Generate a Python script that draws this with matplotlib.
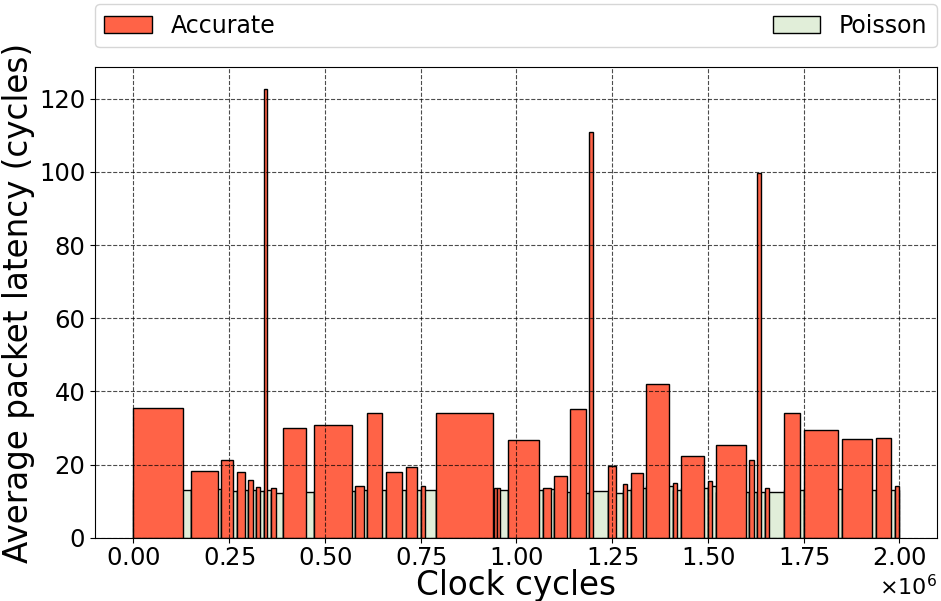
import matplotlib
matplotlib.use("Agg")
import matplotlib.pyplot as plt

# Simulation windows: start cycle, window length (cycles) and mean packet latency
acc_start = [0, 150600, 229800, 270500, 299200, 320000, 340100, 358300, 390400,
             471200, 579800, 610300, 659800, 710900, 750000, 789100, 941300,
             949900, 979300, 1068900, 1099200, 1140100, 1190400, 1239900,
             1279000, 1299800, 1339400, 1409000, 1429900, 1500200, 1520000,
             1608600, 1628200, 1649000, 1699800, 1750600, 1850700, 1940100,
             1989600]
acc_width = [129800, 70400, 30300, 20100, 12200, 9700, 9600, 13000, 60900,
             100000, 21600, 39900, 40700, 29700, 11500, 151100, 8600,
             8600, 80800, 20900, 32300, 40900, 8800, 20100,
             10400, 29700, 60000, 10700, 60200, 9900, 80000,
             11000, 10900, 10500, 39600, 89700, 78200, 39100,
             8600]
acc_latency = [35.6, 18.3, 21.3, 17.9, 15.7, 14.0, 122.5, 13.7, 30.0,
               30.9, 14.2, 34.1, 18.0, 19.3, 14.2, 34.0, 13.7,
               13.5, 26.8, 13.7, 17.0, 35.2, 110.8, 19.7,
               14.8, 17.6, 42.0, 15.0, 22.4, 15.6, 25.4,
               21.3, 99.6, 13.7, 34.1, 29.6, 27.1, 27.4,
               14.1]

poi_start = [0, 150600, 229800, 270500, 299200, 320000, 340100, 358300, 390400,
             471200, 579800, 610300, 659800, 710900, 750000, 789100, 941300,
             949900, 979300, 1068900, 1099200, 1140100, 1190400, 1239900,
             1279000, 1299800, 1339400, 1409000, 1429900, 1500200, 1520000,
             1608600, 1628200, 1649000, 1699800, 1750600, 1850700, 1940100,
             1989600]
poi_width = [150600, 79200, 40700, 28700, 20800, 20100, 18200, 32100, 80800,
             108600, 30500, 49500, 51100, 39100, 39100, 152200, 8600,
             29400, 89600, 30300, 40900, 50300, 49500, 39100,
             20800, 39600, 69600, 20900, 70300, 19800, 88600,
             19600, 20800, 50800, 50800, 100100, 89400, 49500,
             8600]
poi_latency = [13.2, 13.4, 12.75, 13.2, 13.2, 12.75, 13.0, 12.3, 12.4,
               12.9, 13.2, 13.1, 13.2, 13.2, 13.0, 13.0, 13.0,
               13.0, 13.0, 13.3, 12.5, 12.2, 12.75, 12.3,
               13.2, 13.5, 14.1, 13.0, 13.6, 14.1, 12.5,
               12.5, 12.6, 12.6, 13.1, 13.3, 13.0, 13.2,
               13.2]

plt.rcParams["font.family"] = ["DejaVu Sans"]

fig = plt.figure(figsize=(9.41, 6.01), dpi=100)
ax = fig.add_axes([0.101, 0.105, 0.8947, 0.7835])

ax.bar(poi_start, poi_latency, width=poi_width, align="edge",
       color="#e1eed9", edgecolor="black", linewidth=1.0, label="Poisson",
       zorder=1)
ax.bar(acc_start, acc_latency, width=acc_width, align="edge",
       color="#ff6347", edgecolor="black", linewidth=1.0, label="Accurate",
       zorder=1.5)

ax.set_axisbelow(False)
ax.grid(True, linestyle="--", color="black", linewidth=0.8, alpha=0.7)
ax.set_yticks([0, 20, 40, 60, 80, 100, 120])
ax.ticklabel_format(axis="x", style="sci", scilimits=(0, 0), useMathText=True)

ax.tick_params(axis="both", labelsize=17.5)
ax.tick_params(axis="x", pad=2)
ax.xaxis.get_offset_text().set_fontsize(16)
ax.set_xlabel("Clock cycles", fontsize=23.5, labelpad=-0.5)
ax.set_ylabel("Average packet latency (cycles)", fontsize=23.5, labelpad=3)

handles, labels = ax.get_legend_handles_labels()
ax.legend(handles[::-1], labels[::-1], loc="lower left",
          bbox_to_anchor=(0, 1.042, 1, 0.09), mode="expand", ncol=2,
          borderaxespad=0, fontsize=17, frameon=True)

fig.savefig("out.png", dpi=100)
